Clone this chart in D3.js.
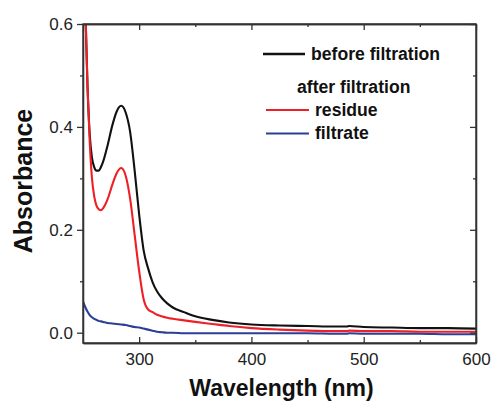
<!DOCTYPE html>
<html>
<head>
<meta charset="utf-8">
<script src="https://cdn.jsdelivr.net/npm/d3@7"></script>
<style>
  body { margin: 0; background: #fff; }
  .axis text { font-family: "Liberation Sans", Arial, sans-serif; font-size: 17px; fill: #222; }
  .axis path, .axis line { stroke: #333; stroke-width: 1.3; }
  .title { font-family: "Liberation Sans", Arial, sans-serif; font-weight: bold; fill: #111; }
  .legend text { font-family: "Liberation Sans", Arial, sans-serif; font-weight: bold; font-size: 17.6px; fill: #111; }
</style>
</head>
<body>
<script>

// wavelength (nm) shared by all three spectra
var wavelength = [250, 252, 254, 256, 258, 260, 262, 264, 266, 268, 272, 276, 280, 284, 288, 292, 296, 300, 304, 308,
                  312, 316, 320, 325, 330, 340, 350, 365, 380, 400, 425, 450, 475, 485, 487, 500, 525, 550, 575, 600];

// absorbance
var beforeFiltration = [0.78, 0.64, 0.48, 0.385, 0.34, 0.322, 0.315, 0.315, 0.322, 0.333, 0.365, 0.402, 0.43, 0.441, 0.428, 0.39, 0.315, 0.23, 0.16, 0.125,
                        0.098, 0.08, 0.068, 0.057, 0.049, 0.04, 0.032, 0.025, 0.02, 0.016, 0.014, 0.013, 0.012, 0.012, 0.013, 0.011, 0.010, 0.009, 0.009, 0.008];
var residue = [0.78, 0.64, 0.48, 0.37, 0.30, 0.265, 0.247, 0.24, 0.238, 0.242, 0.26, 0.287, 0.31, 0.32, 0.305, 0.26, 0.19, 0.12, 0.065, 0.045,
               0.04, 0.035, 0.032, 0.029, 0.027, 0.024, 0.021, 0.017, 0.013, 0.009, 0.006, 0.004, 0.003, 0.003, 0.004, 0.003, 0.003, 0.002, 0.002, 0.002];
var filtrate = [0.061, 0.05, 0.041, 0.034, 0.030, 0.027, 0.025, 0.023, 0.022, 0.021, 0.019, 0.018, 0.017, 0.016, 0.015, 0.013, 0.011, 0.010, 0.008, 0.006,
                0.004, 0.002, 0.001, 0.000, 0.000, -0.001, -0.001, -0.001, -0.001, -0.001, -0.001, -0.001, -0.002, -0.002, -0.001, -0.002, -0.002, -0.002, -0.003, -0.003];

var xTicks = [300, 400, 500, 600];
var yTicks = [0.0, 0.2, 0.4, 0.6];

var series = [
  {name: "before filtration", values: beforeFiltration, color: "#111111"},
  {name: "residue", values: residue, color: "#ee2027"},
  {name: "filtrate", values: filtrate, color: "#2b3f96"}
];

var margin = {top: 24, right: 18, bottom: 58, left: 83},
    width = 494 - margin.left - margin.right,
    height = 401 - margin.top - margin.bottom;

var x = d3.scaleLinear()
    .range([0, width])
    .domain([250, 600]);

var y = d3.scaleLinear()
    .range([height, 0])
    .domain([-0.02, 0.6]);

var svg = d3.select("body").append("svg")
    .attr("width", width + margin.left + margin.right)
    .attr("height", height + margin.top + margin.bottom)
  .append("g")
    .attr("transform", "translate(" + margin.left + "," + margin.top + ")");

svg.append("clipPath")
    .attr("id", "clip")
  .append("rect")
    .attr("width", width)
    .attr("height", height);

// spectra
var line = d3.line()
    .curve(d3.curveMonotoneX)
    .x(function(d) { return x(d[0]); })
    .y(function(d) { return y(d[1]); });

svg.selectAll(".spectrum")
    .data(series)
  .enter().append("path")
    .attr("class", "spectrum")
    .attr("clip-path", "url(#clip)")
    .attr("fill", "none")
    .attr("stroke", function(d) { return d.color; })
    .attr("stroke-width", 2.1)
    .attr("d", function(d) { return line(d3.zip(wavelength, d.values)); });

// bottom axis, ticks inward
svg.append("g")
    .attr("class", "x axis")
    .attr("transform", "translate(0," + height + ")")
    .call(d3.axisBottom(x).tickValues(xTicks).tickSize(-6).tickSizeOuter(0).tickPadding(10).tickFormat(d3.format("d")));

svg.append("g")
    .attr("class", "x axis minor")
    .attr("transform", "translate(0," + height + ")")
    .call(d3.axisBottom(x).tickValues([350, 450, 550]).tickSize(-3).tickSizeOuter(0).tickFormat(""));

// top mirror axis
svg.append("g")
    .attr("class", "x axis")
    .call(d3.axisTop(x).tickValues(xTicks).tickSize(-6).tickSizeOuter(0).tickFormat(""));
svg.append("g")
    .attr("class", "x axis")
    .call(d3.axisTop(x).tickValues([350, 450, 550]).tickSize(-3).tickSizeOuter(0).tickFormat(""));

// left axis, ticks outward
svg.append("g")
    .attr("class", "y axis")
    .call(d3.axisLeft(y).tickValues(yTicks).tickSize(6).tickSizeOuter(0).tickPadding(4).tickFormat(d3.format(".1f")));
svg.append("g")
    .attr("class", "y axis")
    .call(d3.axisLeft(y).tickValues([0.1, 0.3, 0.5]).tickSize(3).tickSizeOuter(0).tickFormat(""));

// right mirror axis, ticks inward
svg.append("g")
    .attr("class", "y axis")
    .attr("transform", "translate(" + width + ",0)")
    .call(d3.axisRight(y).tickValues(yTicks).tickSize(-6).tickSizeOuter(0).tickFormat(""));
svg.append("g")
    .attr("class", "y axis")
    .attr("transform", "translate(" + width + ",0)")
    .call(d3.axisRight(y).tickValues([0.1, 0.3, 0.5]).tickSize(-3).tickSizeOuter(0).tickFormat(""));

// frame
svg.append("rect")
    .attr("width", width)
    .attr("height", height)
    .attr("fill", "none")
    .attr("stroke", "#333")
    .attr("stroke-width", 1.4);

// axis titles
svg.append("text")
    .attr("class", "title")
    .attr("x", width / 2 + 2)
    .attr("y", height + 53)
    .style("font-size", "23px")
    .style("text-anchor", "middle")
    .text("Wavelength (nm)");

svg.append("text")
    .attr("class", "title")
    .attr("transform", "translate(" + (32 - margin.left) + "," + (181 - margin.top) + ") rotate(-90)")
    .style("font-size", "25px")
    .style("text-anchor", "middle")
    .text("Absorbance");

// legend
var legend = svg.append("g")
    .attr("class", "legend")
    .attr("transform", "translate(" + (-margin.left) + "," + (-margin.top) + ")");

var legendRows = [
  {s: series[0], x1: 263, x2: 305, ly: 54, ty: 60},
  {s: series[1], x1: 266, x2: 309, ly: 110, ty: 116},
  {s: series[2], x1: 266, x2: 309, ly: 133.5, ty: 139}
];

legend.selectAll("line")
    .data(legendRows)
  .enter().append("line")
    .attr("x1", function(d) { return d.x1; })
    .attr("x2", function(d) { return d.x2; })
    .attr("y1", function(d) { return d.ly; })
    .attr("y2", function(d) { return d.ly; })
    .attr("stroke", function(d) { return d.s.color; })
    .attr("stroke-width", function(d, i) { return i == 0 ? 2.6 : 2.2; });

legend.selectAll("text.entry")
    .data(legendRows)
  .enter().append("text")
    .attr("class", "entry")
    .attr("x", function(d) { return d.x2 + 6; })
    .attr("y", function(d) { return d.ty; })
    .text(function(d) { return d.s.name; });

legend.append("text")
    .attr("x", 297)
    .attr("y", 93)
    .text("after filtration");

</script>
</body>
</html>
